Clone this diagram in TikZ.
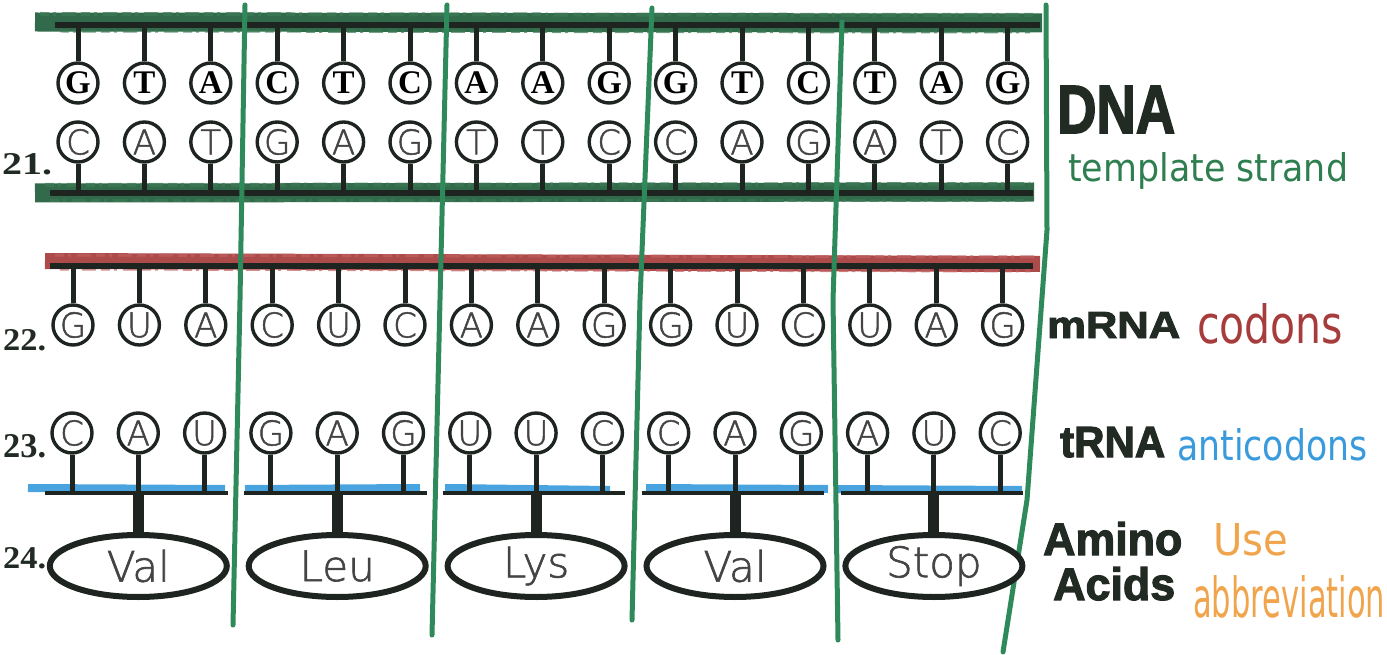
\documentclass[tikz,border=0pt]{standalone}
\usepackage{fontspec}
\usepackage{graphicx}
\usetikzlibrary{shapes.geometric}
\setmainfont{Liberation Serif}
\newfontfamily\lsans[FakeBold=2.5]{Liberation Sans Bold}
\newfontfamily\hand{DejaVu Sans}
\IfFontExistsTF{DejaVu Sans ExtraLight}{\newfontfamily\thinf[FakeBold=1.5]{DejaVu Sans ExtraLight}}{\newfontfamily\thinf{DejaVu Sans}}
\definecolor{ink}{HTML}{1E2420}
\definecolor{labink}{HTML}{222A24}
\definecolor{sgreen}{HTML}{215E3C}
\definecolor{sgreen2}{HTML}{3C7A55}
\definecolor{vgreen}{HTML}{2F8A5B}
\definecolor{lgreen}{HTML}{2E7E50}
\definecolor{mred}{HTML}{A63C3C}
\definecolor{mred2}{HTML}{C06060}
\definecolor{tblue}{HTML}{3A9BDC}
\definecolor{orng}{HTML}{F0A44C}
\definecolor{hgray}{HTML}{444444}
\begin{document}
\begin{tikzpicture}[x=1pt,y=-1pt,
  base/.style={circle,draw=ink,line width=3.4pt,fill=white,minimum size=40pt,inner sep=0pt},
  dnatop/.style={base,font=\fontsize{33}{33}\selectfont\bfseries,text=black},
  handlet/.style={base,font=\thinf\fontsize{34}{34}\selectfont,text=hgray},
  stem/.style={draw=ink,line width=5pt},
  bigstem/.style={draw=ink,line width=11pt},
  strand/.style={draw=ink,line width=5.5pt},
  aabox/.style={ellipse,draw=ink,line width=6pt,fill=white,minimum width=177pt,minimum height=62pt,inner sep=0pt,font=\thinf\fontsize{42}{42}\selectfont,text=hgray},
  crayon/.style={line width=#1,line cap=butt,opacity=0.92},
  grain/.style={line width=#1,opacity=0.7,dash pattern=on 9pt off 4pt on 3pt off 6pt on 14pt off 5pt},
  vline/.style={draw=vgreen,line width=5pt,line cap=round,line join=round},
  boldlab/.style={anchor=base west,inner sep=0pt,font=\lsans,text=labink},
  handlab/.style={anchor=base west,inner sep=0pt,font=\hand},
  numlab/.style={anchor=base west,inner sep=0pt,font=\bfseries,text=labink}
]
\useasboundingbox (0,0) rectangle (1387,655);

% strand reference coordinates
\coordinate (topS) at (0,25);
\coordinate (botS) at (0,193);
\coordinate (mS) at (0,266);
\coordinate (tS) at (0,493);

% codon segment coordinates
\foreach \k in {0,...,4} {
  \pgfmathsetmacro\xl{72+66.3*(3*\k)-27}
  \pgfmathsetmacro\xr{72+66.3*(3*\k+2)+23}
  \coordinate (sl-\k) at (\xl,493);
  \coordinate (sr-\k) at (\xr,493);
}

% crayon bands
\draw[sgreen,crayon=19pt] (35,22) -- (1042,23);
\draw[sgreen2,grain=4pt] (40,14) -- (1035,15);
\draw[sgreen2,grain=3pt] (60,31) -- (1030,32);
\draw[sgreen,crayon=19pt] (35,193) -- (1034,192);
\draw[sgreen2,grain=4pt] (45,185) -- (1030,184);
\draw[sgreen2,grain=3pt] (50,201) -- (1025,201);
\draw[mred,crayon=16pt] (45,261) -- (1040,264);
\draw[mred2,grain=3pt] (55,255) -- (1035,257);
\draw[mred2,grain=3pt] (60,269) -- (1030,271);
\draw[tblue,crayon=8pt] (28,488) -- (225,489);
\draw[tblue,crayon=8pt] (245,489) -- (420,488);
\draw[tblue,crayon=8pt] (445,488) -- (610,490);
\draw[tblue,crayon=8pt] (646,488) -- (828,489);
\draw[tblue,crayon=8pt] (836,489) -- (1022,490);

% black backbones
\draw[strand] (55,25) -- (1040,25);
\draw[strand] (50,193) -- (1033,193);
\draw[strand] (50,266) -- (1033,266);
\foreach \k in {0,...,4} \draw[draw=ink,line width=4.5pt] (sl-\k) -- (sr-\k);

% green dividers
\draw[vline] (245,5) -- (240,300) -- (233,625);
\draw[vline] (447,5) -- (440,300) -- (432,635);
\draw[vline] (652,8) -- (640,300) -- (632,620);
\draw[vline] (842,22) -- (833,300) -- (838,640);
\draw[vline] (1046,5) -- (1047,230) -- (1027,500) -- (1003,652);

% DNA
\foreach \l [count=\i from 0, evaluate=\i as \xx using 78+66.4*\i] in {G,T,A,C,T,C,A,A,G,G,T,C,T,A,G}
  \node[dnatop] (d1-\i) at (\xx,83) {\l};
\foreach \l [count=\i from 0, evaluate=\i as \xx using 78+66.4*\i] in {C,A,T,G,A,G,T,T,C,C,A,G,A,T,C}
  \node[handlet] (d2-\i) at (\xx,142) {\l};
% mRNA
\foreach \l [count=\i from 0, evaluate=\i as \xx using 73+66.4*\i] in {G,U,A,C,U,C,A,A,G,G,U,C,U,A,G}
  \node[handlet] (m-\i) at (\xx,325) {\l};
% tRNA
\foreach \l [count=\i from 0, evaluate=\i as \xx using 72+66.3*\i] in {C,A,U,G,A,G,U,U,C,C,A,G,A,U,C}
  \node[handlet] (t-\i) at (\xx,433) {\l};

% amino acids
\foreach \k/\am in {0/Val,1/Leu,2/Lys,3/Val,4/Stop} {
  \pgfmathsetmacro\xm{72+66.3*(3*\k+1)}
  \node[aabox] (aa-\k) at (\xm,566) {\am};
}

% stems
\foreach \i in {0,...,14} {
  \draw[stem] (d1-\i.north) -- (d1-\i.north |- topS);
  \draw[stem] (d2-\i.south) -- (d2-\i.south |- botS);
  \draw[stem] (m-\i.north) -- (m-\i.north |- mS);
  \draw[stem] (t-\i.south) -- (t-\i.south |- tS);
}
\foreach \k in {0,...,4} {
  \pgfmathtruncatemacro\mid{3*\k+1}
  \draw[bigstem] (t-\mid.south |- tS) -- (aa-\k.north);
}

% row numbers
\node[numlab] (n21) at (2,175) {\resizebox{50pt}{21pt}{21.}};
\node[numlab] (n22) at (3,350) {\resizebox{43pt}{21pt}{22.}};
\node[numlab] (n23) at (3,457) {\resizebox{43pt}{23pt}{23.}};
\node[numlab] (n24) at (3,568) {\resizebox{43pt}{21pt}{24.}};

% right labels
\node[boldlab] (lDNA) at (1057,133) {\resizebox{118pt}{47pt}{DNA}};
\node[handlab,text=lgreen] (lTS) at (1068,182) {\resizebox{280pt}{29pt}{template strand}};
\node[boldlab] (lmRNA) at (1047,338) {\resizebox{133pt}{26pt}{mRNA}};
\node[handlab,text=mred] (lcod) at (1197,343) {\resizebox{146pt}{40pt}{codons}};
\node[boldlab] (ltRNA) at (1060,457) {\resizebox{105pt}{30pt}{tRNA}};
\node[handlab,text=tblue] (lanti) at (1177,460) {\resizebox{190pt}{32pt}{anticodons}};
\node[boldlab] (lAm) at (1043,555) {\resizebox{139pt}{33pt}{Amino}};
\node[boldlab] (lAc) at (1053,600) {\resizebox{122pt}{33pt}{Acids}};
\node[handlab,text=orng] (luse) at (1213,555) {\resizebox{75pt}{32pt}{Use}};
\node[handlab,text=orng] (labb) at (1193,617) {\resizebox{192pt}{42pt}{abbreviation}};
\end{tikzpicture}
\end{document}
